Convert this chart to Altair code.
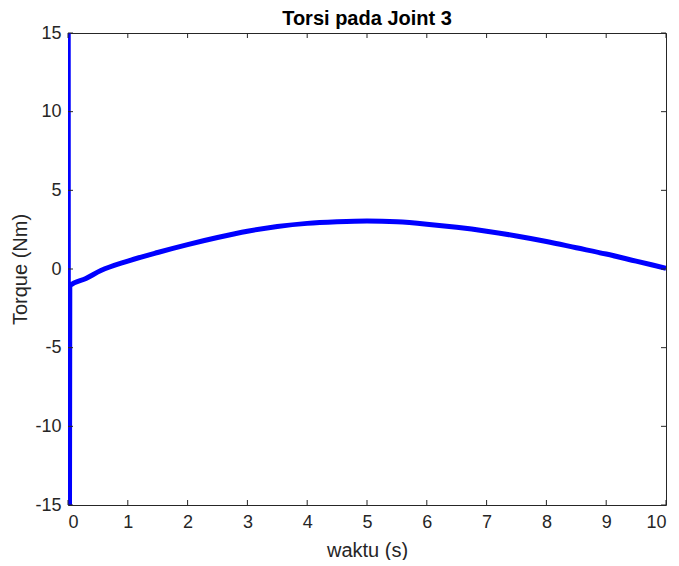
import altair as alt
import pandas as pd

t = [0.0, 0.01, 0.03, 0.3, 0.55, 1.0, 1.5, 2.0, 2.5, 3.0, 3.5, 4.0, 4.5, 5.0, 5.5, 6.0, 6.5, 7.0, 7.5, 8.0, 8.5, 9.0, 9.5, 10.0]
torque = [60.0, -60.0, -1.05, -0.6, -0.1, 0.5, 1.05, 1.55, 2.0, 2.4, 2.7, 2.9, 3.0, 3.05, 3.0, 2.85, 2.65, 2.4, 2.1, 1.75, 1.35, 0.95, 0.5, 0.05]
xticks = list(range(0, 11))
yticks = [-15, -10, -5, 0, 5, 10, 15]

W, H = 598, 472
df = pd.DataFrame({"t": t, "torque": torque})
xt = pd.DataFrame({"x": xticks})
yt = pd.DataFrame({"y": yticks})

font = "Liberation Sans"
xs = alt.Scale(domain=[0, 10], nice=False, zero=False)
ys = alt.Scale(domain=[-15, 15], nice=False, zero=False)

line = alt.Chart(df).mark_line(color="#0000ff", strokeWidth=5, clip=True, interpolate="monotone").encode(
    x=alt.X("t:Q", scale=xs, title="waktu (s)",
            axis=alt.Axis(values=xticks, tickSize=0, labelPadding=8, titlePadding=9, domain=False, grid=False,
                          labelExpr="'' + datum.value")),
    y=alt.Y("torque:Q", scale=ys, title="Torque (Nm)",
            axis=alt.Axis(values=yticks, tickSize=0, labelPadding=7, titlePadding=4, domain=False, grid=False,
                          labelExpr="'' + datum.value")),
)

tk = dict(color="#262626", strokeWidth=1)
bt = alt.Chart(xt).mark_rule(**tk).encode(x=alt.X("x:Q", scale=xs), y=alt.value(H), y2=alt.value(H - 5))
tt = alt.Chart(xt).mark_rule(**tk).encode(x=alt.X("x:Q", scale=xs), y=alt.value(0), y2=alt.value(5))
lt = alt.Chart(yt).mark_rule(**tk).encode(y=alt.Y("y:Q", scale=ys), x=alt.value(0), x2=alt.value(5))
rt = alt.Chart(yt).mark_rule(**tk).encode(y=alt.Y("y:Q", scale=ys), x=alt.value(W), x2=alt.value(W - 5))

chart = alt.layer(line, bt, tt, lt, rt).properties(
    width=W, height=H,
    title=alt.Title("Torsi pada Joint 3", font=font, fontSize=20, fontWeight="bold", color="#000000", offset=-5),
    autosize=alt.AutoSizeParams(type="none"),
    padding={"left": 60, "top": 25, "right": 5, "bottom": 55},
).configure_view(stroke="#262626", strokeWidth=1).configure_axis(
    labelFont=font, titleFont=font, labelFontSize=18, titleFontSize=20,
    labelColor="#262626", titleColor="#262626", titleFontWeight="normal",
)

chart.save("out.html", embed_options={"renderer": "svg", "actions": False})
